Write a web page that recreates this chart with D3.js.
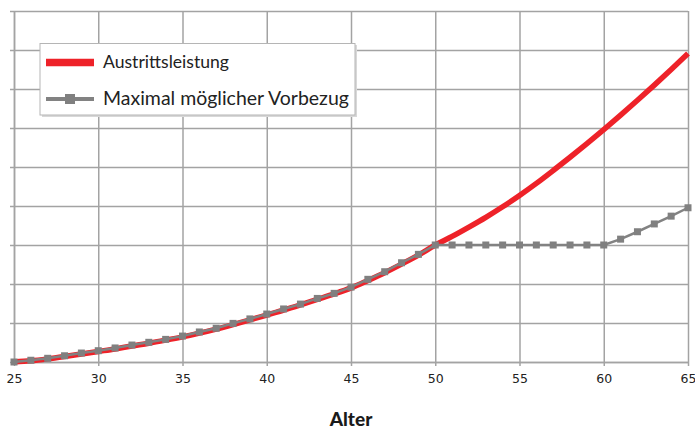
<!DOCTYPE html>
<html>
<head>
<meta charset="utf-8">
<script src="https://cdn.jsdelivr.net/npm/d3@7"></script>
<style>
html,body{margin:0;padding:0;background:#fff;}
svg{display:block;}
</style>
</head>
<body>
<svg id="chart" width="695" height="431"></svg>
<script>
const ages = d3.range(25, 66);
const xTicks = [25, 30, 35, 40, 45, 50, 55, 60, 65];
const yTicks = [0, 100, 200, 300, 400, 500, 600, 700, 800, 900];
const seriesNames = ["Austrittsleistung", "Maximal möglicher Vorbezug"];
const xTitle = "Alter";

const austritt = [0, 3, 8, 14, 20.5, 27, 33.5, 41, 48, 56, 64.5, 74, 84.5, 96, 108, 120.5, 133, 146.5, 160.5, 174.5, 190, 209, 229, 251, 274, 300,
  322, 346, 371, 398, 427, 458, 491, 525, 560, 596, 633, 671, 710, 750, 791];
const vorbezug = [0, 4.5, 9.5, 16, 23, 29, 36, 43.5, 50.5, 58, 66.5, 77, 86.5, 99, 110.5, 123, 136, 148.5, 163, 176, 192, 212, 231.5, 254.5, 276, 300,
  300, 300, 300, 300, 300, 300, 300, 300, 300, 300, 315, 334, 354, 374, 395.5];

const svg = d3.select("#chart");
const x = d3.scaleLinear().domain([25, 65]).range([14, 688]);
const y = d3.scaleLinear().domain([0, 900]).range([362, 11]);
const gridColor = "#a3a3a3";

// horizontal grid + left ticks
const yAxis = d3.axisLeft(y).tickValues(yTicks).tickSize(-(688 - 10)).tickFormat("").tickSizeOuter(0);
const gy = svg.append("g").attr("transform", "translate(14,0)").call(yAxis);
gy.selectAll(".tick line").attr("x1", -4).attr("x2", 674).attr("stroke", gridColor).attr("stroke-width", 1.5);
gy.select(".domain").attr("stroke", gridColor).attr("stroke-width", 1.5);

// vertical grid + bottom ticks
const xAxis = d3.axisBottom(x).tickValues(xTicks).tickSizeOuter(0).tickFormat(d3.format("d"));
const gx = svg.append("g").attr("transform", "translate(0,362)").call(xAxis);
gx.selectAll(".tick line").attr("y1", -351).attr("y2", 4).attr("stroke", gridColor).attr("stroke-width", 1.5);
gx.select(".domain").attr("stroke", gridColor).attr("stroke-width", 1.5);
gx.selectAll(".tick text").attr("y", 12).attr("dy", "0.71em")
  .attr("font-family", "DejaVu Sans, Verdana, sans-serif").attr("font-size", 12.5).attr("fill", "#222");

// lines
const line = d3.line().x((d, i) => x(ages[i])).y(d => y(d)).curve(d3.curveMonotoneX);
svg.append("path").datum(austritt).attr("d", line).attr("fill", "none")
  .attr("stroke", "#ee2229").attr("stroke-width", 5.5).attr("stroke-linejoin", "round");
const line2 = d3.line().x((d, i) => x(ages[i])).y(d => y(d));
svg.append("path").datum(vorbezug).attr("d", line2).attr("fill", "none")
  .attr("stroke", "#828282").attr("stroke-width", 2.5);
svg.append("g").selectAll("rect").data(vorbezug).join("rect")
  .attr("x", (d, i) => x(ages[i]) - 3.5).attr("y", d => y(d) - 3.5)
  .attr("width", 7).attr("height", 7).attr("fill", "#808080");

// legend
const lg = svg.append("g");
lg.append("rect").attr("x", 42).attr("y", 45).attr("width", 315).attr("height", 72).attr("fill", "#d8d8d8");
lg.append("rect").attr("x", 40).attr("y", 43.5).attr("width", 315).attr("height", 71.5)
  .attr("fill", "#fff").attr("stroke", "#b5b5b5").attr("stroke-width", 1);
lg.append("line").attr("x1", 46).attr("x2", 94).attr("y1", 62.5).attr("y2", 62.5)
  .attr("stroke", "#ee2229").attr("stroke-width", 7.5);
lg.append("line").attr("x1", 46).attr("x2", 94).attr("y1", 99).attr("y2", 99)
  .attr("stroke", "#828282").attr("stroke-width", 4);
lg.append("rect").attr("x", 65).attr("y", 94).attr("width", 10).attr("height", 10).attr("fill", "#808080");
const targets = [126, 246];
seriesNames.forEach((n, i) => {
  const t = lg.append("text").attr("x", 103).attr("y", i === 0 ? 68 : 105)
    .attr("font-family", "Lato, 'Open Sans', sans-serif").attr("font-size", 19).attr("fill", "#222").text(n);
  const w = t.node().getComputedTextLength();
  t.attr("font-size", 19 * targets[i] / w);
});

// x title
svg.append("text").attr("x", 351).attr("y", 426).attr("text-anchor", "middle")
  .attr("font-family", "Lato, sans-serif").attr("font-weight", 900).attr("font-size", 19)
  .attr("fill", "#1a1a1a").text(xTitle);
</script>
</body>
</html>
